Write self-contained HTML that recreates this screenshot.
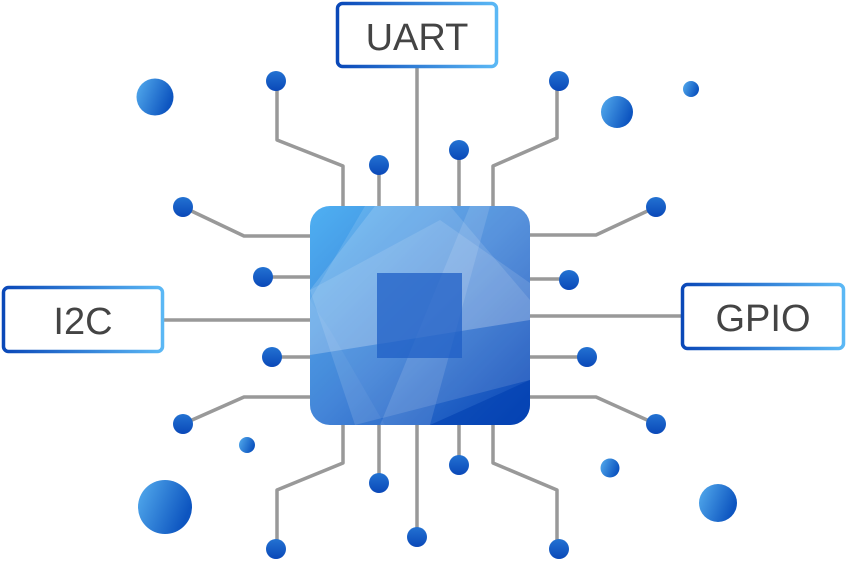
<!DOCTYPE html>
<html><head><meta charset="utf-8"><style>
html,body{margin:0;padding:0;background:#fff;}
svg{display:block;}
text{font-family:"Liberation Sans",sans-serif;}
</style></head><body>
<svg width="846" height="561" viewBox="0 0 846 561" xmlns="http://www.w3.org/2000/svg">
<defs>
<linearGradient id="chip" x1="0" y1="0" x2="1" y2="1">
<stop offset="0" stop-color="#4fb0f2"/><stop offset="0.5" stop-color="#3a7fd6"/><stop offset="1" stop-color="#0a45b5"/>
</linearGradient>
<linearGradient id="ball" x1="0" y1="0" x2="1" y2="0.4">
<stop offset="0" stop-color="#55adee"/><stop offset="1" stop-color="#0d55c0"/>
</linearGradient>
<linearGradient id="bord" x1="0" y1="0" x2="1" y2="0">
<stop offset="0" stop-color="#0a48b8"/><stop offset="1" stop-color="#5bb8f5"/>
</linearGradient>
<linearGradient id="dot" x1="0" y1="0" x2="0" y2="1">
<stop offset="0" stop-color="#2372d2"/><stop offset="1" stop-color="#0a48b8"/>
</linearGradient>
<clipPath id="cc"><rect x="310" y="206" width="220" height="219" rx="20"/></clipPath>
</defs>
<g fill="none" stroke="#999" stroke-width="3.5" stroke-linejoin="round" stroke-linecap="round">
<!-- top -->
<polyline points="343,206 343,166 277,140 277,81"/>
<line x1="379" y1="206" x2="379" y2="165"/>
<line x1="417" y1="206" x2="417" y2="68"/>
<line x1="459" y1="206" x2="459" y2="150"/>
<polyline points="493,206 493,166 557,138 557,81"/>
<!-- bottom -->
<polyline points="343,425 343,463 277,490 277,549"/>
<line x1="379" y1="425" x2="379" y2="483"/>
<line x1="417" y1="425" x2="417" y2="537"/>
<line x1="459" y1="425" x2="459" y2="465"/>
<polyline points="493,425 493,463 557,490 557,549"/>
<!-- left -->
<polyline points="310,236 244,236 183,207"/>
<line x1="310" y1="277" x2="263" y2="277"/>
<line x1="310" y1="320" x2="164" y2="320"/>
<line x1="310" y1="357" x2="272" y2="357"/>
<polyline points="310,397 244,397 183,424"/>
<!-- right -->
<polyline points="530,235 596,235 656,207"/>
<line x1="530" y1="279" x2="569" y2="279"/>
<line x1="530" y1="316" x2="681" y2="316"/>
<line x1="530" y1="357" x2="587" y2="357"/>
<polyline points="530,397 596,397 656,424"/>
</g>
<g fill="url(#dot)">
<circle cx="276" cy="81" r="10"/><circle cx="379" cy="165" r="10"/><circle cx="459" cy="150" r="10"/><circle cx="559" cy="81" r="10"/>
<circle cx="183" cy="207" r="10"/><circle cx="263" cy="277" r="10"/><circle cx="272" cy="357" r="10"/><circle cx="183" cy="424" r="10"/>
<circle cx="656" cy="207" r="10"/><circle cx="569" cy="280" r="10"/><circle cx="587" cy="357" r="10"/><circle cx="656" cy="424" r="10"/>
<circle cx="276" cy="549" r="10"/><circle cx="379" cy="483" r="10"/><circle cx="417" cy="537" r="10"/><circle cx="459" cy="465" r="10"/><circle cx="559" cy="549" r="10"/>
</g>
<g fill="url(#ball)">
<circle cx="155" cy="97" r="18.5"/><circle cx="617" cy="112" r="16"/><circle cx="691" cy="89" r="8"/>
<circle cx="247" cy="445" r="8"/><circle cx="165" cy="507" r="27"/><circle cx="610" cy="468" r="9.5"/><circle cx="718" cy="503" r="19"/>
</g>
<!-- chip -->
<rect x="310" y="206" width="220" height="219" rx="20" fill="url(#chip)"/>
<g clip-path="url(#cc)" fill="#fff">
<polygon points="310,290 375,206 530,206 530,320 310,355" opacity="0.15"/>
<polygon points="310,290 440,220 530,283 530,380 355,425" opacity="0.12"/>
<polygon points="365,206 450,206 530,300 530,320 310,355 310,300" opacity="0.12"/>
<polygon points="470,206 490,206 430,425 380,425" opacity="0.12"/>
<polygon points="310,300 330,330 385,425 300,425" opacity="0.05"/>
<polygon points="430,425 530,380 530,425" fill="#0040b0" opacity="0.6"/>
</g>
<rect x="377" y="273" width="85" height="85" fill="#1f5fc6" opacity="0.75"/>
<!-- labels -->
<rect x="337.5" y="3.5" width="159" height="63" rx="5" fill="#fff" stroke="url(#bord)" stroke-width="3.5"/>
<text x="417" y="50" font-size="38" fill="#444" text-anchor="middle">UART</text>
<rect x="3.5" y="287.5" width="159" height="64" rx="5" fill="#fff" stroke="url(#bord)" stroke-width="3.5"/>
<text x="83" y="334" font-size="38" fill="#444" text-anchor="middle">I2C</text>
<rect x="682.5" y="284.5" width="161" height="64" rx="5" fill="#fff" stroke="url(#bord)" stroke-width="3.5"/>
<text x="763" y="331" font-size="38" fill="#444" text-anchor="middle">GPIO</text>
</svg>
</body></html>
